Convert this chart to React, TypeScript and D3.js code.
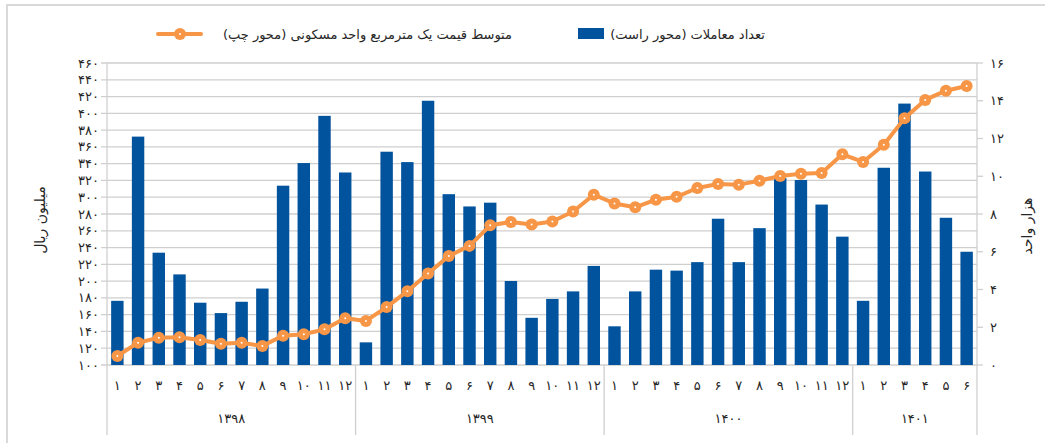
import React from "react";
import * as d3 from "d3";

const years = ["۱۳۹۸", "۱۳۹۹", "۱۴۰۰", "۱۴۰۱"];
const monthsPerYear = [12, 12, 12, 6];
const monthLabels = ["۱", "۲", "۳", "۴", "۵", "۶", "۷", "۸", "۹", "۱۰", "۱۱", "۱۲"];

// تعداد معاملات (هزار واحد) - right axis
const counts = [
  3.4, 12.1, 5.95, 4.8, 3.3, 2.75, 3.35, 4.05, 9.5, 10.7, 13.2, 10.2,
  1.2, 11.3, 10.75, 14.0, 9.05, 8.4, 8.6, 4.45, 2.5, 3.5, 3.9, 5.25,
  2.05, 3.9, 5.05, 5.0, 5.45, 7.75, 5.45, 7.25, 9.9, 9.8, 8.5, 6.8,
  3.4, 10.45, 13.85, 10.25, 7.8, 6.0,
];

// متوسط قیمت یک مترمربع (میلیون ریال) - left axis
const prices = [
  110.7, 126.6, 132.6, 133, 129.8, 125.4, 126.6, 122.6, 135, 136.6, 142.5, 155.6,
  152.5, 169, 188, 209, 230, 242, 266.5, 270.5, 267.5, 271, 283, 303,
  292.5, 288, 297, 300.5, 311, 315.8, 315, 319.7, 325.3, 328, 329, 351.2,
  342, 362.6, 394, 416, 427, 432.6,
];

const leftTicks = d3.range(100, 461, 20);
const rightTicks = d3.range(0, 17, 2);

const barLabel = "تعداد معاملات (محور راست)";
const lineLabel = "متوسط قیمت یک مترمربع واحد مسکونی (محور چپ)";
const leftTitle = "میلیون ریال";
const rightTitle = "هزار واحد";

const toFa = (n: number) => String(n).replace(/\d/g, (d) => "۰۱۲۳۴۵۶۷۸۹"[+d]);

const BLUE = "#02539e";
const ORANGE = "#f79646";
const GRID = "#cfcfcf";
const TXT = "#262626";
const FONT = "DejaVu Sans";

export default function App() {
  const W = 1045;
  const H = 443;
  const left = 107;
  const right = 977;
  const top = 63;
  const bottom = 365;

  const idx = d3.range(counts.length);
  const x = d3.scaleBand<number>().domain(idx).range([left, right]).paddingInner(0.4).paddingOuter(0.2);
  const step = x.step();
  const yL = d3.scaleLinear().domain([100, 460]).range([bottom, top]);
  const yR = d3.scaleLinear().domain([0, 16]).range([bottom, top]);

  const line = d3
    .line<number>()
    .x((_, i) => x(i)! + x.bandwidth() / 2)
    .y((d) => yL(d));

  // year group boundaries
  const bounds: number[] = [0];
  monthsPerYear.forEach((m, i) => bounds.push(bounds[i] + m));
  const bx = (k: number) => left + (right - left) * (k / counts.length);

  return (
    <svg width={W} height={H} style={{ position: "absolute", left: 0, top: 0, background: "#fff" }} fontFamily={FONT}>
      <rect x={7} y={5} width={W + 10} height={H + 10} fill="#fff" stroke="#d9d9d9" strokeWidth={2} />

      {/* grid */}
      {leftTicks.map((t) => (
        <g key={t}>
          <line x1={left - 6} x2={right} y1={yL(t)} y2={yL(t)} stroke={GRID} strokeWidth={1.3} />
          <text x={99} y={yL(t)} dy="0.35em" textAnchor="end" fontSize={13} fill={TXT}>
            {toFa(t)}
          </text>
        </g>
      ))}
      {rightTicks.map((t) => (
        <g key={t}>
          <line x1={right} x2={right + 6} y1={yR(t)} y2={yR(t)} stroke={GRID} strokeWidth={1.3} />
          <text x={990} y={yR(t)} dy="0.35em" textAnchor="start" fontSize={13} fill={TXT}>
            {toFa(t)}
          </text>
        </g>
      ))}
      <line x1={left} x2={left} y1={top} y2={bottom} stroke={GRID} strokeWidth={1.3} />
      <line x1={right} x2={right} y1={top} y2={bottom} stroke={GRID} strokeWidth={1.3} />

      {/* bars */}
      {counts.map((c, i) => (
        <rect key={i} x={x(i)} y={yR(c)} width={x.bandwidth()} height={bottom - yR(c)} fill={BLUE} />
      ))}

      {/* line */}
      <path d={line(prices) || ""} fill="none" stroke={ORANGE} strokeWidth={4} strokeLinejoin="round" />
      {prices.map((p, i) => (
        <g key={i}>
          <circle cx={x(i)! + x.bandwidth() / 2} cy={yL(p)} r={6} fill={ORANGE} />
          <circle cx={x(i)! + x.bandwidth() / 2} cy={yL(p)} r={1} fill="#fff" />
        </g>
      ))}

      {/* category axis */}
      {bounds.map((b) => (
        <line key={b} x1={bx(b)} x2={bx(b)} y1={bottom} y2={435} stroke={GRID} strokeWidth={1.3} />
      ))}
      {idx.map((i) => {
        let yi = 0;
        while (i >= bounds[yi + 1]) yi++;
        const m = i - bounds[yi];
        return (
          <text key={i} x={left + step * (i + 0.5)} y={385} dy="0.35em" textAnchor="middle" fontSize={13} fill={TXT}>
            {monthLabels[m]}
          </text>
        );
      })}
      {years.map((yr, k) => (
        <text key={yr} x={(bx(bounds[k]) + bx(bounds[k + 1])) / 2} y={418} dy="0.35em" textAnchor="middle" fontSize={13} fill={TXT}>
          {yr}
        </text>
      ))}

      {/* axis titles */}
      <text transform={`translate(40,220) rotate(-90)`} textAnchor="middle" dy="0.35em" fontSize={14} fill={TXT} direction="rtl">
        {leftTitle}
      </text>
      <text transform={`translate(1027,226) rotate(-90)`} textAnchor="middle" dy="0.35em" fontSize={14} fill={TXT} direction="rtl">
        {rightTitle}
      </text>

      {/* legend */}
      <rect x={578} y={28} width={26} height={11} fill={BLUE} />
      <text x={765} y={34} dy="0.35em" textAnchor="start" direction="rtl" fontSize={13} fill={TXT}>
        {barLabel}
      </text>
      <line x1={158} x2={201} y1={34} y2={34} stroke={ORANGE} strokeWidth={4} strokeLinecap="round" />
      <circle cx={180} cy={34} r={6} fill={ORANGE} />
      <circle cx={180} cy={34} r={1} fill="#fff" />
      <text x={512} y={34} dy="0.35em" textAnchor="start" direction="rtl" fontSize={13} fill={TXT}>
        {lineLabel}
      </text>
    </svg>
  );
}
